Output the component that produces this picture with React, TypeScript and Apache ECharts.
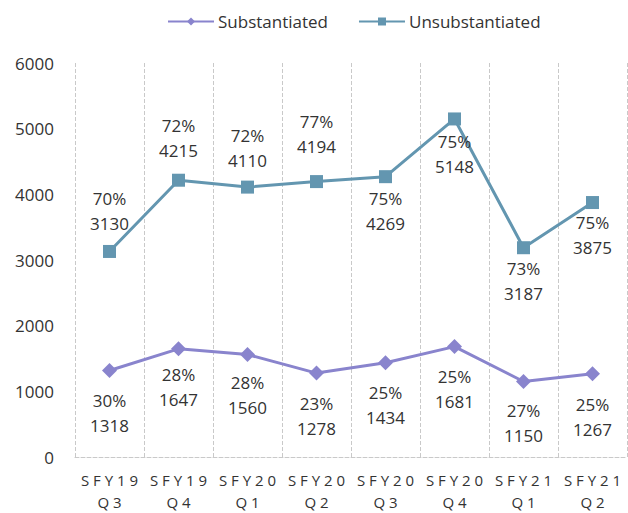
import React, { useEffect, useRef } from "react";
import * as echarts from "echarts";

const categories = ["S F Y 1 9\nQ 3", "S F Y 1 9\nQ 4", "S F Y 2 0\nQ 1", "S F Y 2 0\nQ 2", "S F Y 2 0\nQ 3", "S F Y 2 0\nQ 4", "S F Y 2 1\nQ 1", "S F Y 2 1\nQ 2"];
const substantiated = [1318, 1647, 1560, 1278, 1434, 1681, 1150, 1267];
const substantiatedPct = ["30%", "28%", "28%", "23%", "25%", "25%", "27%", "25%"];
const unsubstantiated = [3130, 4215, 4110, 4194, 4269, 5148, 3187, 3875];
const unsubstantiatedPct = ["70%", "72%", "72%", "77%", "75%", "75%", "73%", "75%"];
const yTicks = [0, 1000, 2000, 3000, 4000, 5000, 6000];

// label placement (style config): position and distance from the marker
const unsubLabelPos = ["top", "top", "top", "top", "bottom", "bottom", "bottom", "bottom"];
const unsubLabelDist = [9, 11, 8, 16, 3, 4, 2, 1];
const subLabelDist = [10, 6, 8, 10, 10, 10, 9, 11];

const FONT = "'Open Sans', 'Noto Sans', sans-serif";
const TXT = "#333333";
const SUB_COLOR = "#8984CD";
const UNSUB_COLOR = "#6396B0";
const GRID_COLOR = "#c9c9c9";

export default function App() {
  const ref = useRef<HTMLDivElement>(null);
  useEffect(() => {
    if (!ref.current) return;
    const chart = echarts.init(ref.current, undefined, { renderer: "svg" });
    const labelBase = {
      show: true,
      color: TXT,
      fontSize: 17,
      fontFamily: FONT,
      lineHeight: 25,
    };
    chart.setOption({
      animation: false,
      textStyle: { fontFamily: FONT },
      legend: {
        top: 8,
        left: 162,
        itemWidth: 46,
        itemHeight: 10,
        itemGap: 30,
        textStyle: { fontSize: 17, color: TXT, fontFamily: FONT, padding: [0, 0, 0, -1] },
        data: ["Substantiated", "Unsubstantiated"],
      },
      grid: { left: 75, right: 1, top: 63, bottom: 56, containLabel: false },
      xAxis: {
        type: "category",
        data: categories,
        boundaryGap: true,
        axisLine: { show: true, lineStyle: { color: GRID_COLOR, type: "dashed", width: 1 } },
        axisTick: { show: false },
        splitLine: { show: true, lineStyle: { color: GRID_COLOR, type: "dashed", width: 1 } },
        axisLabel: { color: TXT, fontSize: 15, fontFamily: FONT, margin: 12, lineHeight: 22, interval: 0 },
      },
      yAxis: {
        type: "value",
        min: yTicks[0],
        max: yTicks[yTicks.length - 1],
        interval: 1000,
        axisLine: { show: false },
        axisTick: { show: false },
        splitLine: { show: false },
        axisLabel: {
          color: TXT,
          fontSize: 17,
          fontFamily: FONT,
          margin: 21,
          formatter: (v: number) => String(v),
        },
      },
      series: [
        {
          name: "Substantiated",
          type: "line",
          data: substantiated.map((v, i) => ({
            value: v,
            label: {
              ...labelBase,
              position: "bottom",
              distance: subLabelDist[i],
              formatter: () => `${substantiatedPct[i]}\n${v}`,
            },
          })),
          symbol: "diamond",
          symbolSize: 15,
          itemStyle: { color: SUB_COLOR },
          lineStyle: { color: SUB_COLOR, width: 3 },
        },
        {
          name: "Unsubstantiated",
          type: "line",
          data: unsubstantiated.map((v, i) => ({
            value: v,
            label: {
              ...labelBase,
              position: unsubLabelPos[i],
              distance: unsubLabelDist[i],
              formatter: () => `${unsubstantiatedPct[i]}\n${v}`,
            },
          })),
          symbol: "rect",
          symbolSize: 13,
          itemStyle: { color: UNSUB_COLOR },
          lineStyle: { color: UNSUB_COLOR, width: 3 },
        },
      ],
    });
    return () => chart.dispose();
  }, []);
  return <div ref={ref} style={{ width: 628, height: 513, position: "absolute", left: 0, top: 0 }} />;
}
